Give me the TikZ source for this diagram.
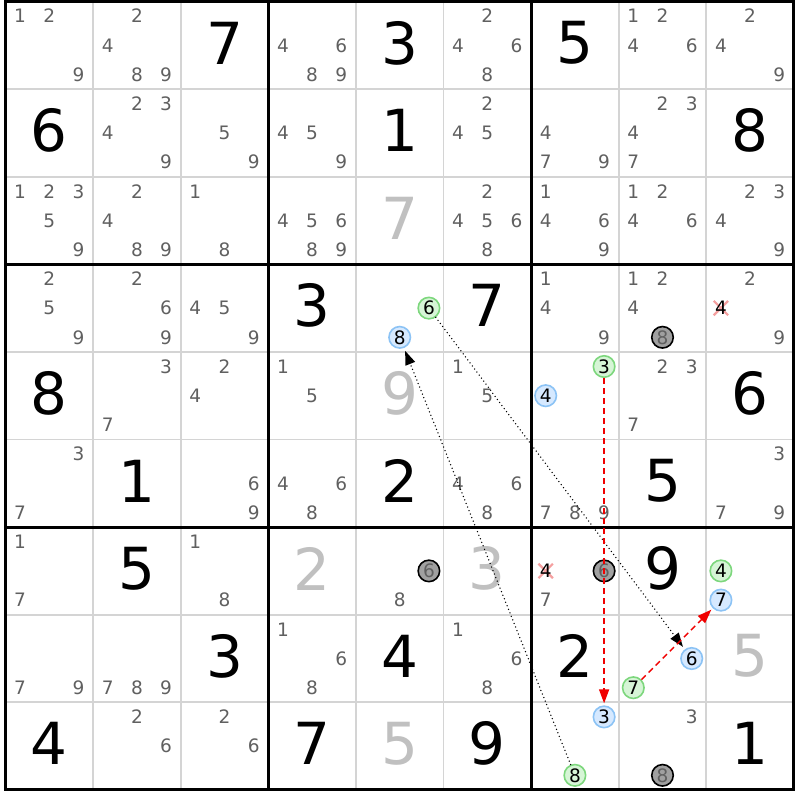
\documentclass[tikz,border=0pt]{standalone}
\usepackage{fontspec}
\setmainfont{DejaVu Sans}
\usetikzlibrary{arrows.meta}
\definecolor{candgrey}{RGB}{96,96,96}
\definecolor{solvedgrey}{RGB}{192,192,192}
\definecolor{thingrid}{RGB}{212,212,212}
\definecolor{greenfill}{RGB}{214,245,214}
\definecolor{greenline}{RGB}{125,215,125}
\definecolor{bluefill}{RGB}{214,233,255}
\definecolor{blueline}{RGB}{140,195,245}
\definecolor{greyfill}{RGB}{160,160,160}
\definecolor{crosspink}{RGB}{245,160,160}
\definecolor{chainred}{RGB}{240,0,0}
\newcommand\candpos[3]{%
  \pgfmathsetmacro\px{5.5+87.6*#2+14.6*(1+2*mod(#3-1,3))}%
  \pgfmathsetmacro\py{1.5+87.6*#1+14.6*(1+2*floor((#3-1)/3))}}
\newcommand\cellpos[2]{%
  \pgfmathsetmacro\px{5.5+87.6*#2+43.8}%
  \pgfmathsetmacro\py{1.5+87.6*#1+41.5}}
\begin{document}
\begin{tikzpicture}[x=1pt,y=-1pt,
  cand/.style={text=candgrey, font=\fontsize{18.5}{20}\selectfont, inner sep=0pt},
  given/.style={text=black, font=\fontsize{58}{60}\selectfont, inner sep=0pt},
  solved/.style={given, text=solvedgrey},
  ring/.style={circle, line width=1.6pt, minimum size=21.5pt, inner sep=0pt, font=\fontsize{18.5}{20}\selectfont},
  gcirc/.style={ring, draw=greenline, fill=greenfill, text=black},
  bcirc/.style={ring, draw=blueline, fill=bluefill, text=black},
  kcirc/.style={ring, draw=black, fill=greyfill, text=candgrey},
  xcand/.style={cand, text=black},
  crossline/.style={crosspink, line width=2.2pt},
  thinline/.style={thingrid, line width=1.8pt},
  thickline/.style={black, line width=3pt},
  dotarrow/.style={black, line width=1.5pt, line cap=round, dash pattern=on 0pt off 3.8pt, -{Triangle[length=14pt,width=10pt]}, shorten >=3pt},
  redarrow/.style={chainred, line width=1.4pt, dash pattern=on 6pt off 4pt, -{Triangle[length=14pt,width=10pt]}, shorten >=2pt}
]
\useasboundingbox (0,0) rectangle (800,800);
\fill[white] (0,0) rectangle (800,800);
% thin grid
\foreach \i in {1,2,4,5,7,8}{
  \draw[thinline] ({5.5+87.6*\i},1.5) -- ({5.5+87.6*\i},{1.5+87.6*9});
  \draw[thinline] (5.5,{1.5+87.6*\i}) -- ({5.5+87.6*9},{1.5+87.6*\i});
}
% plain candidates
\foreach \r/\c/\ds in {0/0/{1,2,9},0/1/{2,4,8,9},0/3/{4,6,8,9},0/5/{2,4,6,8},0/7/{1,2,4,6},0/8/{2,4,9},
  1/1/{2,3,4,9},1/2/{5,9},1/3/{4,5,9},1/5/{2,4,5},1/6/{4,7,9},1/7/{2,3,4,7},
  2/0/{1,2,3,5,9},2/1/{2,4,8,9},2/2/{1,8},2/3/{4,5,6,8,9},2/5/{2,4,5,6,8},2/6/{1,4,6,9},2/7/{1,2,4,6},2/8/{2,3,4,9},
  3/0/{2,5,9},3/1/{2,6,9},3/2/{4,5,9},3/6/{1,4,9},3/7/{1,2,4},3/8/{2,9},
  4/1/{3,7},4/2/{2,4},4/3/{1,5},4/5/{1,5},4/7/{2,3,7},
  5/0/{3,7},5/2/{6,9},5/3/{4,6,8},5/5/{4,6,8},5/6/{7,8,9},5/8/{3,7,9},
  6/0/{1,7},6/2/{1,8},6/4/{8},6/6/{7},
  7/0/{7,9},7/1/{7,8,9},7/3/{1,6,8},7/5/{1,6,8},
  8/1/{2,6},8/2/{2,6},8/7/{3}}{
  \foreach \d in \ds {
    \candpos{\r}{\c}{\d}
    \node[cand] (c\r\c\d) at (\px,\py) {\d};
  }
}
% given digits
\foreach \r/\c/\v in {0/2/7,0/4/3,0/6/5,1/0/6,1/4/1,1/8/8,3/3/3,3/5/7,4/0/8,4/8/6,5/1/1,5/4/2,5/7/5,
  6/1/5,6/7/9,7/2/3,7/4/4,7/6/2,8/0/4,8/3/7,8/5/9,8/8/1}{
  \cellpos{\r}{\c}
  \node[given] (n\r\c) at (\px,\py) {\v};
}
% solved digits
\foreach \r/\c/\v in {2/4/7,4/4/9,6/3/2,6/5/3,7/8/5,8/4/5}{
  \cellpos{\r}{\c}
  \node[solved] (n\r\c) at (\px,\py) {\v};
}
% eliminated candidates (crossed)
\candpos{3}{8}{4}
\node[inner sep=0pt, minimum size=14pt] (xa) at (\px,\py) {};
\draw[crossline] (xa.north west) -- (xa.south east) (xa.north east) -- (xa.south west);
\node[xcand] (xa4) at (xa.center) {4};
\candpos{6}{6}{4}
\node[inner sep=0pt, minimum size=14pt] (xb) at (\px,\py) {};
\draw[crossline] (xb.north west) -- (xb.south east) (xb.north east) -- (xb.south west);
\node[xcand] (xb4) at (xb.center) {4};
% grey circled candidates
\candpos{3}{7}{8}\node[kcirc] (k378) at (\px,\py) {8};
\candpos{6}{4}{6}\node[kcirc] (k646) at (\px,\py) {6};
\candpos{6}{6}{6}\node[kcirc] (k666) at (\px,\py) {6};
\candpos{8}{7}{8}\node[kcirc] (k878) at (\px,\py) {8};
% green circled candidates
\candpos{3}{4}{6}\node[gcirc] (g6) at (\px,\py) {6};
\candpos{4}{6}{3}\node[gcirc] (g3) at (\px,\py) {3};
\candpos{6}{8}{4}\node[gcirc] (g4) at (\px,\py) {4};
\candpos{7}{7}{7}\node[gcirc] (g7) at (\px,\py) {7};
\candpos{8}{6}{8}\node[gcirc] (g8) at (\px,\py) {8};
% blue circled candidates
\candpos{3}{4}{8}\node[bcirc] (b8) at (\px,\py) {8};
\candpos{4}{6}{4}\node[bcirc] (b4) at (\px,\py) {4};
\candpos{6}{8}{7}\node[bcirc] (b7) at (\px,\py) {7};
\candpos{7}{7}{6}\node[bcirc] (b6) at (\px,\py) {6};
\candpos{8}{6}{3}\node[bcirc] (b3) at (\px,\py) {3};
% thick grid
\foreach \i in {0,3,6,9}{
  \draw[thickline] ({5.5+87.6*\i},0) -- ({5.5+87.6*\i},{1.5+87.6*9+1.5});
  \draw[thickline] (4,{1.5+87.6*\i}) -- ({5.5+87.6*9+1.5},{1.5+87.6*\i});
}
% links
\draw[dotarrow] (g8) -- (b8);
\draw[dotarrow] (g6) -- (b6);
\draw[redarrow] (g3) -- (b3);
\draw[redarrow] (g7) -- (b7);
\end{tikzpicture}
\end{document}
